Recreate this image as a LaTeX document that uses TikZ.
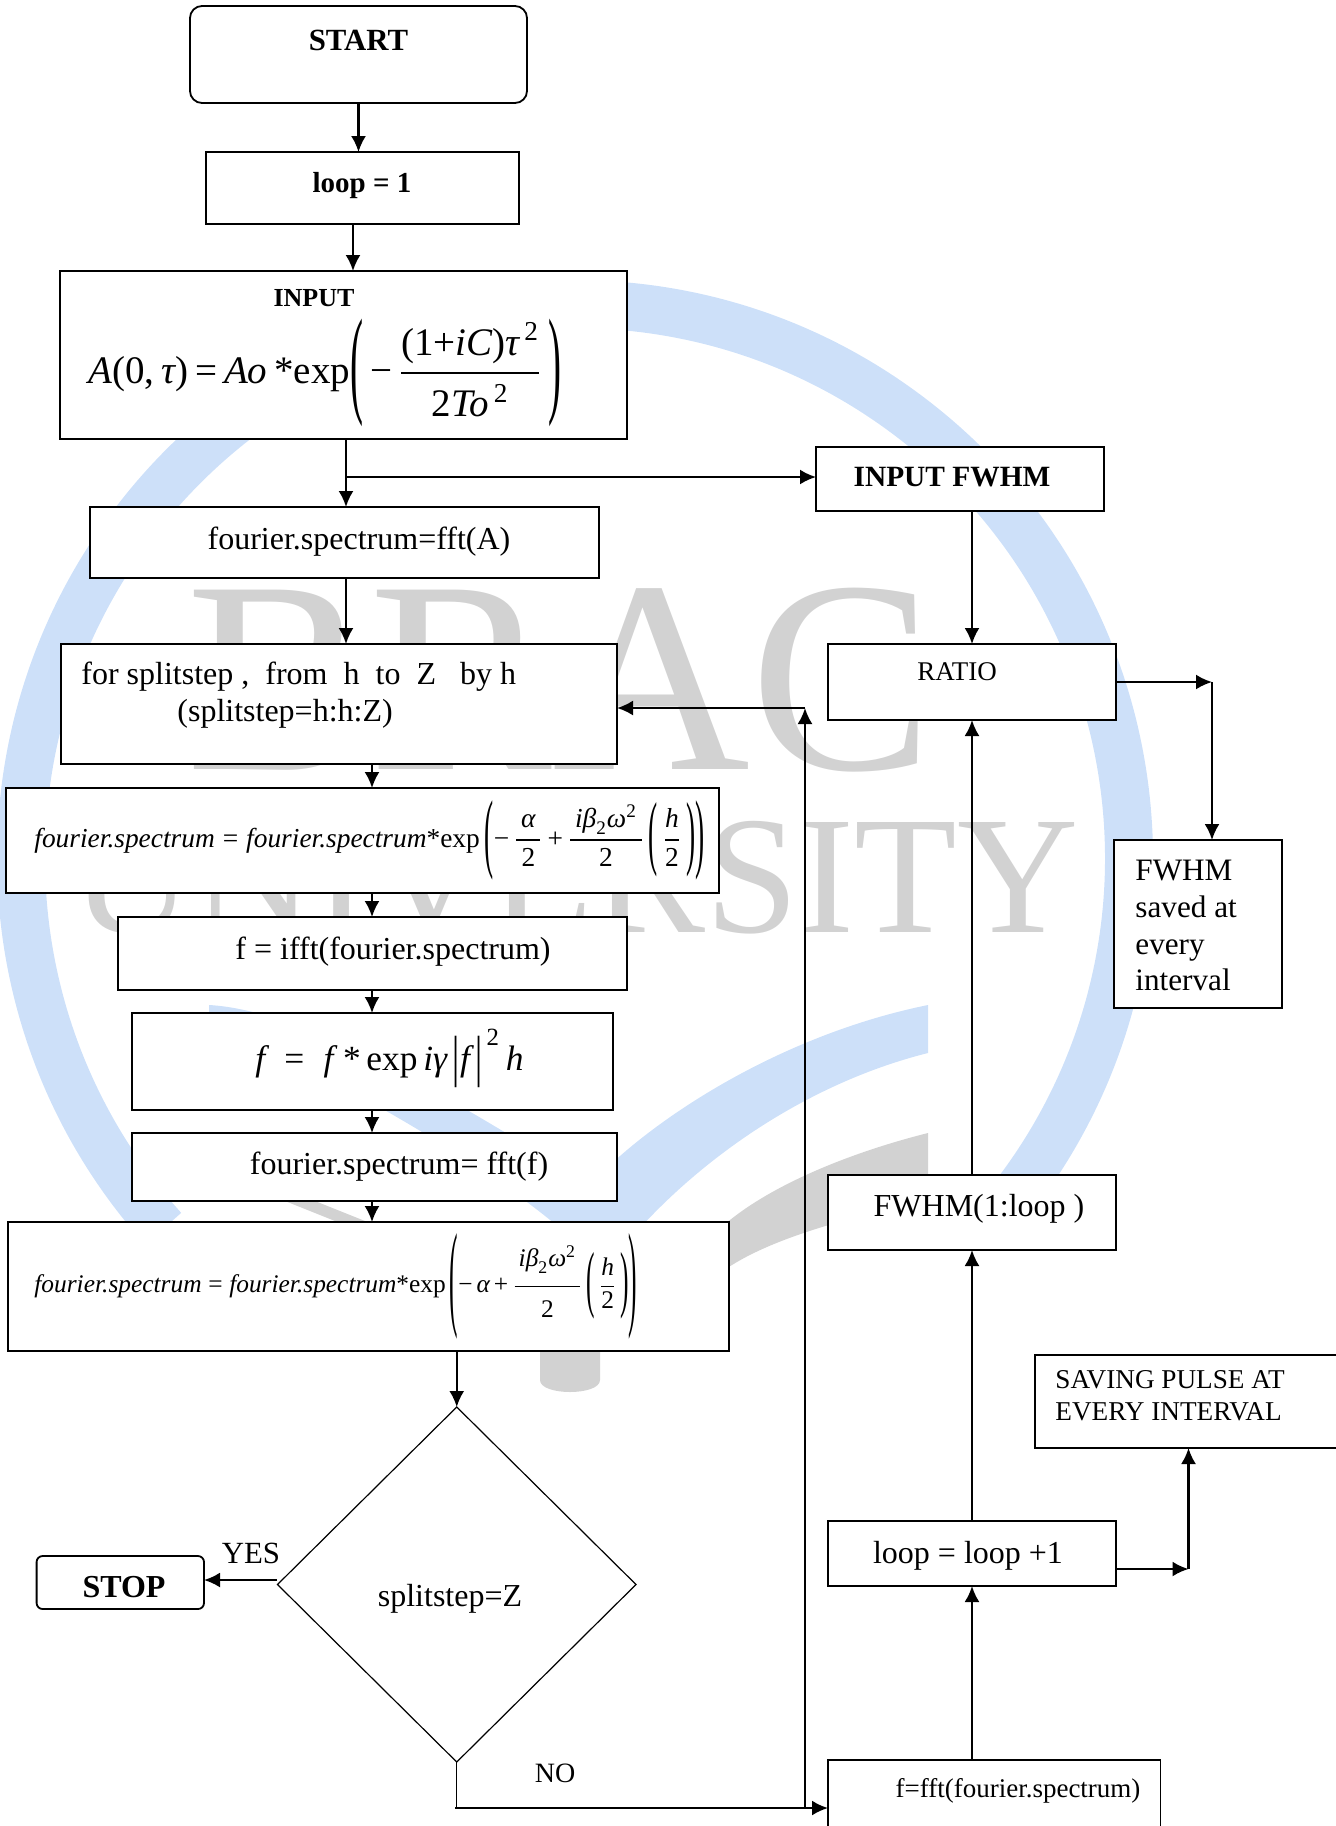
\documentclass[tikz,border=0pt]{standalone}
\usepackage{amsmath}
\usepackage{graphicx}
\usepackage{fontspec}
\setmainfont{Liberation Serif}
\usetikzlibrary{arrows.meta,shapes.geometric}
\definecolor{wmblue}{HTML}{CDE0F9}
\definecolor{wmgrey}{HTML}{D2D2D2}
\newcommand{\ital}[1]{\textit{#1}}
\newcommand{\fspec}{\ital{fourier.spectrum}}
\newcommand{\fsz}[1]{\fontsize{#1}{#1}\selectfont}
\newcommand{\tallpar}[2]{\vcenter{\hbox{\scalebox{1}[#1]{#2}}}}
\tikzset{
  flowbox/.style={draw,fill=white,line width=0.9pt,inner sep=0pt,outer sep=0pt},
  roundbox/.style={flowbox,rounded corners=6pt},
  decisionbox/.style={diamond,aspect=1,draw,fill=white,line width=0.6pt,inner sep=0pt,outer sep=0pt},
  flow/.style={line width=1.1pt,-{Latex[length=8pt,width=7.5pt]}},
  plainflow/.style={line width=1pt},
  txt/.style={inner sep=0pt,yshift=-0.8pt,font=\fsz{16}},
  smalltxt/.style={inner sep=0pt,yshift=-0.8pt,font=\fsz{13.5}},
  headtxt/.style={inner sep=0pt,yshift=-0.8pt,font=\fsz{14.7}\bfseries},
  wmtxt/.style={inner sep=0pt,text=wmgrey,anchor=base}
}
\begin{document}
\begin{tikzpicture}[x=0.5pt,y=-0.5pt]
  \useasboundingbox (0,0) rectangle (1335,1826);
  % watermark
  \draw[wmblue,line width=24pt] (1018.6,1190) arc[start angle=36.8,end angle=-222,radius=554];
  \fill[wmblue] (209,1005) .. controls (300,1010) and (440,1090) .. (590,1185)
    .. controls (650,1120) and (780,1035) .. (928,1005) -- (928,1053)
    .. controls (800,1085) and (680,1170) .. (605,1270)
    .. controls (520,1180) and (350,1085) .. (209,1020) -- cycle;
  \fill[wmgrey] (270,1195) -- (300,1195) -- (400,1235) -- (600,1300) -- (730,1220)
    .. controls (780,1180) and (860,1150) .. (928,1133) -- (928,1200)
    .. controls (860,1215) and (780,1235) .. (732,1265) -- (600,1345) -- (600,1380)
    .. controls (600,1396) and (540,1396) .. (540,1380) -- (540,1340) -- (370,1235) -- cycle;
  \node[wmtxt,font=\fsz{137}] (wmbrac) at (560,769) {BRAC};
  \node[wmtxt,font=\fsz{84}] (wmuniv) at (575,932) {UNIVERSITY};
  % boxes, left column
  \node[roundbox,minimum width=168.5pt,minimum height=48.5pt] (startbox) at (358.5,54.5) {};
  \node[flowbox,minimum width=156.5pt,minimum height=36pt] (initbox) at (362.5,188) {};
  \node[flowbox,minimum width=283.5pt,minimum height=84pt] (inputbox) at (343.5,355) {};
  \node[flowbox,minimum width=254.5pt,minimum height=35.5pt] (fourierbox) at (344.5,542.5) {};
  \node[flowbox,minimum width=278pt,minimum height=60pt] (splitbox) at (339,704) {};
  \node[flowbox,minimum width=356.5pt,minimum height=52.5pt] (halfbox) at (362.5,840.5) {};
  \node[flowbox,minimum width=254.5pt,minimum height=36.5pt] (ifftbox) at (372.5,953.5) {};
  \node[flowbox,minimum width=240.5pt,minimum height=48.5pt] (nonlinbox) at (372.5,1061.5) {};
  \node[flowbox,minimum width=242.5pt,minimum height=34pt] (fftbox) at (374.5,1167) {};
  \node[flowbox,minimum width=360.5pt,minimum height=64.5pt] (fullbox) at (368.5,1286.5) {};
  \node[decisionbox,minimum width=179.25pt,minimum height=177.5pt] (decision) at (456.75,1584.5) {};
  \node[flowbox,rounded corners=3pt,minimum width=83.7pt,minimum height=26.5pt] (stopbox) at (120.3,1582.5) {};
  % boxes, right column
  \node[flowbox,minimum width=144pt,minimum height=32pt] (fwhminbox) at (960,479) {};
  \node[flowbox,minimum width=144pt,minimum height=38pt] (ratiobox) at (972,682) {};
  \node[flowbox,minimum width=84pt,minimum height=84pt] (savedbox) at (1198,924) {};
  \node[flowbox,minimum width=144pt,minimum height=37.5pt] (widthbox) at (972,1212.5) {};
  \node[flowbox,minimum width=155pt,minimum height=46.5pt] (savingbox) at (1190,1401.5) {};
  \node[flowbox,minimum width=144pt,minimum height=32.5pt] (loopincbox) at (972,1553.5) {};
  \node[flowbox,minimum width=166.25pt,minimum height=40pt] (pulsebox) at (994.25,1800) {};
  % texts
  \node[headtxt,font=\fsz{15.4}\bfseries] (starttxt) at (358.5,38.5) {START};
  \node[headtxt,font=\fsz{14.5}\bfseries] (inittxt) at (362,184) {loop = 1};
  \node[headtxt,font=\fsz{13}\bfseries] (inputtxt) at (314,297) {INPUT};
  \node[inner sep=0pt,anchor=west,font=\fsz{19.5}] (inputeq) at (88,373)
    {$\ital{A}\textup{(0,}\,\ital{τ}\textup{)}\,\textup{=}\,\ital{Ao}\,\textup{*}\textup{exp}\tallpar{3.05}{(}\,\textup{−}\,\dfrac{\textup{(1+}\ital{iC}\textup{)}\ital{τ}^{\,\textup{2}}}{\rule{0pt}{19pt}\textup{2}\ital{To}^{\,\textup{2}}}\,\tallpar{3.05}{)}$};
  \node[txt] (fouriertxt) at (359,540) {fourier.spectrum=fft(A)};
  \node[txt,anchor=west] (splittxt) at (81,675) {for splitstep ,~ from~ h~ to~ Z~~ by h};
  \node[txt,anchor=west] (rangetxt) at (177,712) {(splitstep=h:h:Z)};
  \node[inner sep=0pt,anchor=west,font=\fsz{13.7}] (halfeq) at (34,840)
    {$\fspec\;\textup{=}\;\fspec\textup{*}\textup{exp}\,\tallpar{3.2}{(}\textup{−}\,\dfrac{\,\ital{α}\,}{\textup{2}}\,\textup{+}\,\dfrac{\,\ital{iβ}_{\textup{2}}\ital{ω}^{\textup{2}}\,}{\textup{2}}\,\tallpar{3}{(}\,\dfrac{\ital{h}}{\textup{2}}\,\tallpar{3}{)}\tallpar{3.2}{)}$};
  \node[txt] (iffttxt) at (393,950) {f = ifft(fourier.spectrum)};
  \node[inner sep=0pt,anchor=west,font=\fsz{17.7}] (nonlineq) at (255,1058)
    {$\ital{f}\;\;\textup{=}\;\;\ital{f}\;\textup{*}\,\textup{exp}\,\ital{iγ}\,\tallpar{1.6}{|}\ital{f}\,\tallpar{1.6}{|}^{\,\textup{2}}\,\ital{h}$};
  \node[txt] (ffttxt) at (399,1165) {fourier.spectrum= fft(f)};
  \node[inner sep=0pt,anchor=west,font=\fsz{12.7}] (fulleq) at (34,1286)
    {$\fspec\;\textup{=}\;\fspec\textup{*}\textup{exp}\,\tallpar{4.6}{(}\textup{−}\,\ital{α}\,\textup{+}\,\dfrac{\,\ital{iβ}_{\textup{2}}\ital{ω}^{\textup{2}}\,\rule[-8pt]{0pt}{8pt}}{\rule{0pt}{14pt}\textup{2}}\,\tallpar{2.9}{(}\,\dfrac{\ital{h}}{\textup{2}}\,\tallpar{2.9}{)}\tallpar{4.6}{)}$};
  \node[txt] (decisiontxt) at (450,1597) {splitstep=Z};
  \node[headtxt,font=\fsz{16}\bfseries] (stoptxt) at (124,1585) {STOP};
  \node[txt,font=\fsz{15.4}] (yeslabel) at (251,1552) {YES};
  \node[txt,font=\fsz{14}] (nolabel) at (555,1772) {NO};
  \node[headtxt] (fwhmintxt) at (952,475) {INPUT FWHM};
  \node[smalltxt] (ratiotxt) at (957,670) {RATIO};
  \node[txt,anchor=west,align=left,font=\fontsize{15.6}{18.4}\selectfont] (savedtxt) at (1135,924) {FWHM\\saved at\\every\\interval};
  \node[txt] (widthtxt) at (979,1207) {FWHM(1:loop )};
  \node[smalltxt,anchor=west,align=left,font=\fontsize{13.6}{16}\selectfont] (savingtxt) at (1055,1394) {SAVING PULSE AT\\EVERY INTERVAL};
  \node[txt] (loopinctxt) at (968,1554) {loop = loop +1};
  \node[smalltxt] (pulsetxt) at (1018,1789) {f=fft(fourier.spectrum)};
  % free ends and turning points
  \coordinate (inputtap) at (346,477);
  \coordinate (midline) at (372,800);
  \coordinate (returntop) at (805,708);
  \coordinate (nojoin) at (455,1808);
  \coordinate (returnbase) at (805,1808);
  \coordinate (ratioturn) at (1212,682);
  \coordinate (saveturn) at (1188.5,1569);
  \coordinate (yesstart) at (277,1580);
  % connectors
  \draw[flow] (startbox.south) -- (startbox.south |- initbox.north);
  \draw[flow] (initbox.south -| 353,0) -- (inputbox.north -| 353,0);
  \draw[flow] (inputbox.south -| inputtap) -- (fourierbox.north -| inputtap);
  \draw[flow] (inputtap) -- (inputtap -| fwhminbox.west);
  \draw[flow] (fourierbox.south -| inputtap) -- (splitbox.north -| inputtap);
  \draw[flow] (splitbox.south -| midline) -- (halfbox.north -| midline);
  \draw[flow] (halfbox.south -| midline) -- (ifftbox.north -| midline);
  \draw[flow] (ifftbox.south -| midline) -- (nonlinbox.north -| midline);
  \draw[flow] (nonlinbox.south -| midline) -- (fftbox.north -| midline);
  \draw[flow] (fftbox.south -| midline) -- (fullbox.north -| midline);
  \draw[flow] (fullbox.south -| decision.north) -- (decision.north);
  \draw[flow] (yesstart) -- (yesstart -| stopbox.east);
  \draw[plainflow,line width=0.7pt] (decision.south) -- (decision.south |- nojoin);
  \draw[flow] (nojoin) -- (nojoin -| pulsebox.west);
  \draw[flow] (returnbase) -- (returntop);
  \draw[flow] (returntop) -- (returntop -| splitbox.east);
  \draw[flow] (fwhminbox.south -| ratiobox.north) -- (ratiobox.north);
  \draw[flow] (ratiobox.east) -- (ratioturn);
  \draw[flow] (ratioturn) -- (ratioturn |- savedbox.north);
  \draw[flow] (widthbox.north) -- (ratiobox.south);
  \draw[flow] (loopincbox.north) -- (widthbox.south);
  \draw[flow] (pulsebox.north -| loopincbox.south) -- (loopincbox.south);
  \draw[flow] (saveturn -| loopincbox.east) -- (saveturn);
  \draw[flow] (saveturn) -- (saveturn |- savingbox.south);
\end{tikzpicture}
\end{document}
